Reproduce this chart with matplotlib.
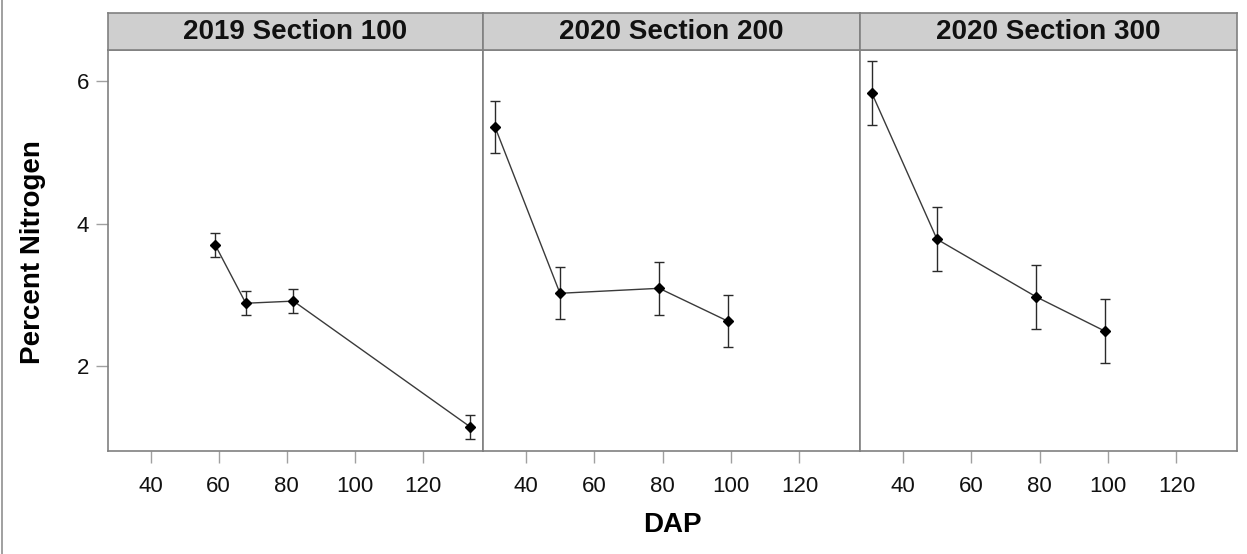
import matplotlib
matplotlib.use("Agg")
import matplotlib.pyplot as plt
from matplotlib.lines import Line2D

plt.rcParams["font.family"] = ["Liberation Sans", "DejaVu Sans"]

# panel titles
panels = ["2019 Section 100", "2020 Section 200", "2020 Section 300"]

# days after planting, percent nitrogen and error (per panel)
dap_100 = [59, 68, 82, 134]
n_100 = [3.70, 2.88, 2.91, 1.14]
err_100 = [0.165, 0.17, 0.165, 0.165]

dap_200 = [31, 50, 79, 99]
n_200 = [5.36, 3.02, 3.09, 2.63]
err_200 = [0.365, 0.365, 0.37, 0.365]

dap_300 = [31, 50, 79, 99]
n_300 = [5.83, 3.78, 2.97, 2.49]
err_300 = [0.45, 0.45, 0.45, 0.45]

x_ticks = [40, 60, 80, 100, 120]
y_ticks = [2, 4, 6]

series = [(dap_100, n_100, err_100), (dap_200, n_200, err_200), (dap_300, n_300, err_300)]

W, H = 1247, 554
fig = plt.figure(figsize=(W / 100, H / 100), dpi=100)

edges = [108, 483, 860, 1237]
plot_top, plot_bot, strip_top = 50, 450.5, 12.5
grey = "#808080"

axes = []
for i, (title, (x, y, e)) in enumerate(zip(panels, series)):
    l = edges[i] / W
    w = (edges[i + 1] - edges[i]) / W
    ax = fig.add_axes([l, 1 - plot_bot / H, w, (plot_bot - plot_top) / H])
    ax.errorbar(x, y, yerr=e, fmt="none", ecolor="#2a2a2a", elinewidth=1,
                capsize=3.6, capthick=1)
    ax.plot(x, y, color="#3a3a3a", lw=1, marker="D", markersize=5.2,
            markerfacecolor="black", markeredgecolor="black")
    ax.set_xlim(27.5, 137.7)
    ax.set_ylim(0.81, 6.44)
    ax.set_xticks(x_ticks)
    ax.set_yticks(y_ticks)
    for s in ax.spines.values():
        s.set_color(grey)
        s.set_linewidth(1.2)
    ax.tick_params(axis="both", direction="out", length=8.6, width=1,
                   color="#a0a0a0", labelsize=16, labelcolor="#111111")
    ax.tick_params(axis="x", pad=10)
    ax.tick_params(axis="y", pad=5)
    if i > 0:
        ax.tick_params(axis="y", left=False, labelleft=False)
    axes.append(ax)

    sx = fig.add_axes([l, 1 - plot_top / H, w, (plot_top - strip_top) / H])
    sx.set_facecolor("#cfcfcf")
    sx.set_xticks([])
    sx.set_yticks([])
    for s in sx.spines.values():
        s.set_color(grey)
        s.set_linewidth(1.2)
    sx.text(0.5, 0.48, title, ha="center", va="center", fontsize=20,
            fontweight="bold", color="#111111", transform=sx.transAxes)

fig.text(33 / W, 1 - ((plot_top + plot_bot) / 2 + 2) / H, "Percent Nitrogen",
         rotation=90, ha="center", va="center", fontsize=20, fontweight="bold")
fig.text((edges[0] + edges[-1]) / 2 / W, 1 - 525 / H, "DAP", ha="center",
         va="center", fontsize=20, fontweight="bold")

# thin frame line along the left edge
fig.add_artist(Line2D([1.5 / W, 1.5 / W], [0, 1], color="#909090", lw=1.2,
                      transform=fig.transFigure))

fig.savefig("out.png", dpi=100)
